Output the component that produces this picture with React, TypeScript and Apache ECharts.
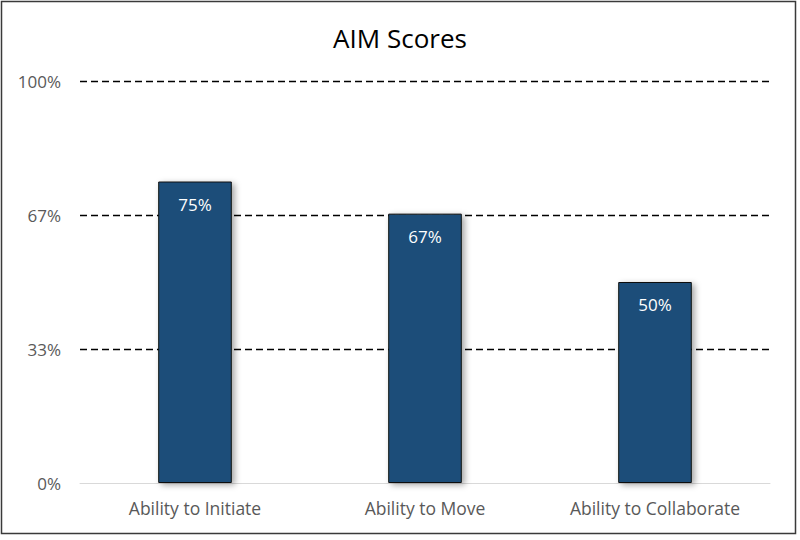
import { useEffect, useRef } from 'react';
import * as echarts from 'echarts';

const categories = ['Ability to Initiate', 'Ability to Move', 'Ability to Collaborate'];
const scores = [75, 67, 50];
const yTicks = [0, 100 / 3, 200 / 3, 100];

const FONT = '"Open Sans", "Noto Sans", sans-serif';

const App = () => {
    const chartRef = useRef<HTMLDivElement>(null);

    useEffect(() => {
        if (!chartRef.current) return;
        const chart = echarts.init(chartRef.current, null, { renderer: 'svg' });

        chart.setOption({
            animation: false,
            backgroundColor: '#ffffff',
            title: {
                text: 'AIM Scores',
                left: 'center',
                top: 20,
                textStyle: { fontFamily: FONT, fontSize: 26, fontWeight: 'normal', color: '#000000' }
            },
            graphic: [
                {
                    type: 'rect',
                    shape: { x: 1.5, y: 1.5, width: 794, height: 532 },
                    style: { fill: 'none', stroke: '#3a3a3a', lineWidth: 1.5 },
                    silent: true
                }
            ],
            grid: { left: 80, right: 30, top: 81, bottom: 57 },
            xAxis: {
                type: 'category',
                data: categories,
                axisTick: { show: false },
                axisLine: { lineStyle: { color: '#d9d9d9', width: 1 } },
                axisLabel: { color: '#595959', fontFamily: FONT, fontSize: 17.5, margin: 16 }
            },
            yAxis: {
                type: 'value',
                min: yTicks[0],
                max: yTicks[yTicks.length - 1],
                interval: 100 / 3,
                axisLine: { show: false },
                axisTick: { show: false },
                axisLabel: {
                    color: '#595959',
                    fontFamily: FONT,
                    fontSize: 17,
                    margin: 19,
                    formatter: (v: number) => `${Math.round(v)}%`
                },
                splitLine: {
                    show: true,
                    showMinLine: false,
                    lineStyle: { color: '#000000', width: 1.3, type: [7, 4] }
                }
            },
            series: [
                {
                    type: 'bar',
                    data: scores,
                    barWidth: '32%',
                    itemStyle: {
                        color: '#1f4e79',
                        borderColor: '#111111',
                        borderWidth: 1,
                        shadowColor: 'rgba(0,0,0,0.35)',
                        shadowBlur: 6,
                        shadowOffsetX: 3,
                        shadowOffsetY: 2
                    },
                    label: {
                        show: true,
                        position: 'insideTop',
                        distance: 14,
                        color: '#ffffff',
                        fontFamily: FONT,
                        fontSize: 17,
                        formatter: (p: any) => `${p.value}%`
                    },
                    z: 3
                }
            ]
        });

        return () => {
            chart.dispose();
        };
    }, []);

    return (
        <div
            ref={chartRef}
            style={{ position: 'fixed', left: 0, top: 0, width: '800px', height: '540px' }}
        />
    );
};

export default App;
